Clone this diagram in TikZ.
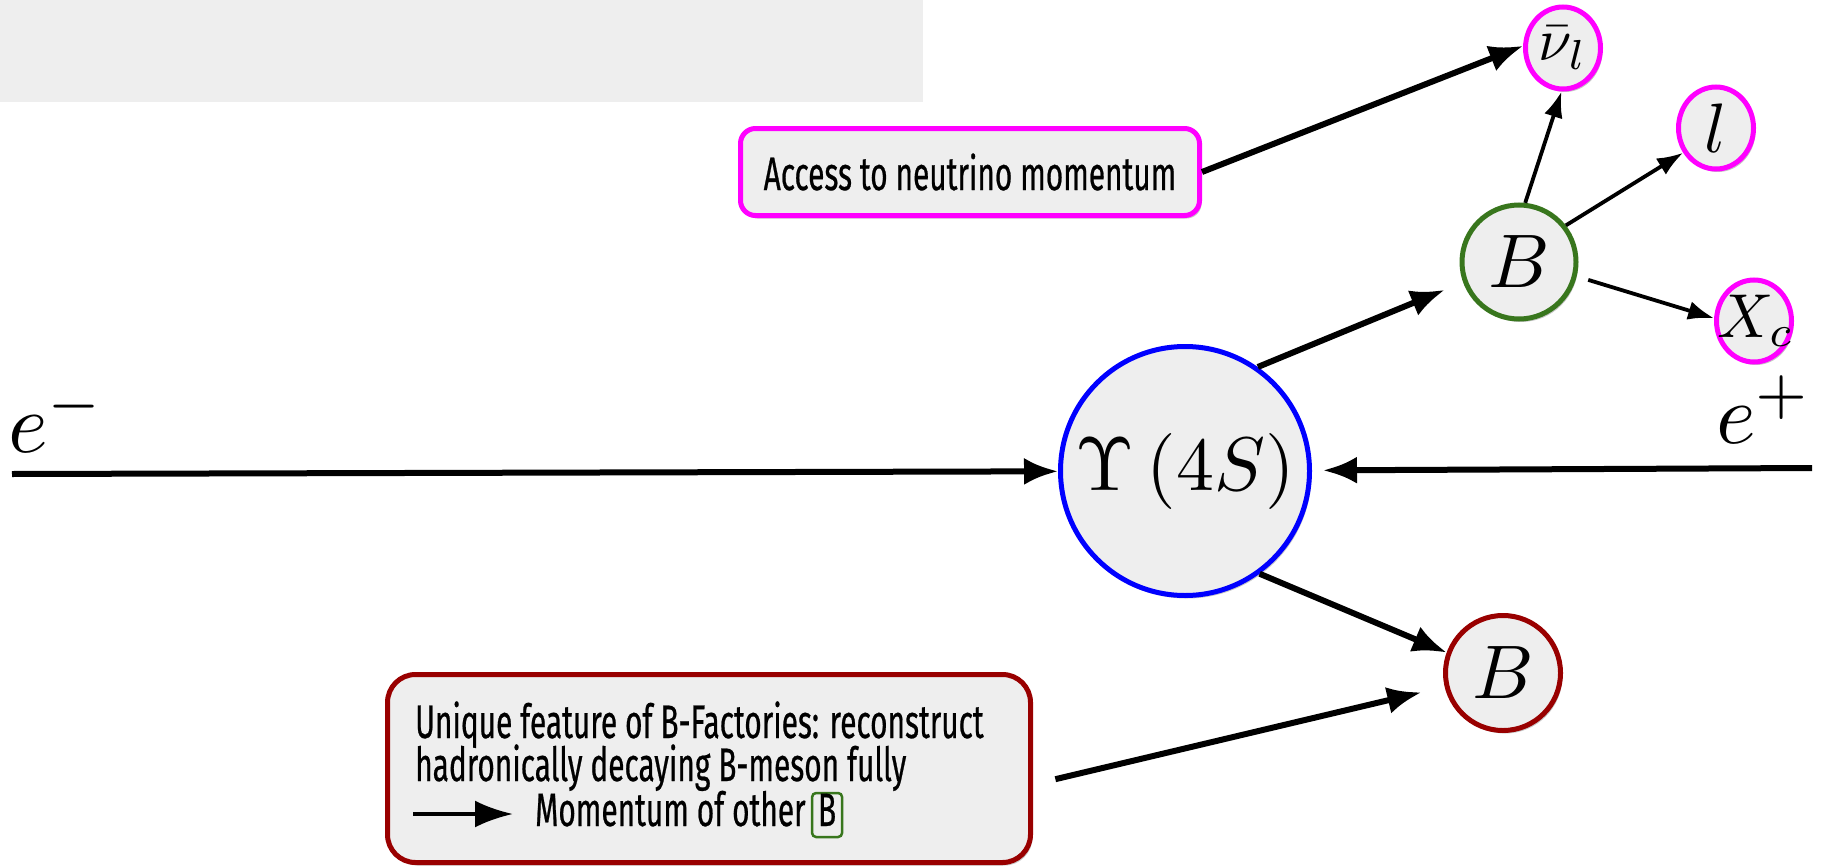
\documentclass[tikz,border=0pt]{standalone}
\usepackage{graphicx}
\usepackage{fontspec}
\newfontfamily\osw[FakeStretch=0.635,FakeBold=0.5]{Fira Sans}
\usetikzlibrary{arrows.meta,shapes.geometric,shadows,calc}
\definecolor{boxgray}{HTML}{EEEEEE}
\definecolor{mag}{HTML}{FF00FF}
\definecolor{dgreen}{HTML}{38761D}
\definecolor{dred}{HTML}{990000}
\newcommand{\mbig}[2]{\scalebox{#1}{$#2$}}
\tikzset{
  shad/.style={drop shadow={shadow xshift=2pt,shadow yshift=-3pt,fill=black,opacity=0.22}},
  thickarr/.style={line width=6pt,-{Latex[length=34pt,width=27pt]}},
  thinarr/.style={line width=3.8pt,-{Latex[length=26pt,width=19pt]}},
  particle/.style={circle,draw,line width=5pt,fill=boxgray,inner sep=0pt,shad},
  lepton/.style={ellipse,draw=mag,line width=5pt,fill=boxgray,inner sep=0pt,shad,
    minimum width=75pt,minimum height=82pt},
  callout/.style={rectangle,draw,line width=5pt,fill=boxgray,inner sep=0pt,shad},
  txt/.style={font=\osw\fontsize{47pt}{48pt}\selectfont,inner sep=0pt},
  lbl/.style={inner sep=0pt},
}
\begin{document}
\begin{tikzpicture}[x=1pt,y=-1pt]
\useasboundingbox (0,0) rectangle (1826,867);
\fill[boxgray] (0,0) rectangle (923,102);

% particles
\node[particle,draw=blue,minimum size=249pt] (ups) at (1185,471) {\mbig{7.6}{\Upsilon\left(4S\right)}};
\node[particle,draw=dgreen,minimum size=114pt] (Bg) at (1519,262) {\mbig{7.6}{B}};
\node[particle,draw=dred,minimum size=115pt] (Br) at (1503,673) {\mbig{7.6}{B}};
\node[lepton] (nu) at (1563,48) {};
\node[lbl] (nut) at (nu) {\mbig{6}{\bar{\nu}_l}};
\node[lepton] (l) at (1716,128) {};
\node[lbl] (lt) at (l) {\mbig{7}{l}};
\node[lepton] (Xc) at (1754,321) {};
\node[lbl] (Xct) at ([xshift=2pt]Xc.center) {\mbig{6.2}{X_c}};

% beam labels
\node[anchor=base west,inner sep=0pt] (em) at (8,452) {\mbig{8.5}{e^-}};
\node[anchor=base west,inner sep=0pt] (ep) at (1716,443) {\mbig{8.5}{e^+}};
\coordinate (em0) at (12,474);
\coordinate (ep0) at (1812,468);

% callout boxes
\node[callout,draw=mag,rounded corners=15pt,minimum width=459pt,minimum height=87pt] (box1) at (970,172) {};
\node[txt] (t0) at (box1.center) {Access to neutrino momentum};

\node[callout,draw=dred,rounded corners=28pt,minimum width=643pt,minimum height=188pt] (box2) at (709,768.5) {};
\node[txt,anchor=base west] (t1) at (415,738) {Unique feature of B-Factories: reconstruct};
\node[txt,anchor=base west] (t2) at (415,781) {hadronically decaying B-meson fully};
\node[txt,anchor=base west] (t3) at (535,826) {Momentum of other};
\node[txt,anchor=base west,draw=dgreen,line width=2.5pt,rounded corners=4pt,inner sep=2pt,
  text height=31pt,text depth=9pt,minimum width=30pt] (bsm) at ($(t3.base east)+(5,0)$) {B};
\coordinate (a0) at (413,814);
\coordinate (a1) at (513,814);
\draw[line width=4pt,-{Latex[length=38pt,width=27pt]}] (a0) -- (a1);

% connectors
\draw[thickarr] (em0) -- (ups);
\draw[thickarr,shorten >=11pt] (ep0) -- (ups);
\draw[thickarr,shorten >=20pt] (ups.55) -- (Bg.200);
\draw[thickarr] (ups.306) -- (Br.160);
\draw[thickarr,shorten <=23pt,shorten >=24pt] ($(box2.east)+(0,16)$) -- (Br);
\draw[thickarr] (box1.east) -- (nu.177);
\draw[thinarr] (Bg.84) -- (nu.268);
\draw[thinarr] (Bg.38) -- (l.217);
\draw[thinarr,shorten <=12pt] (Bg.-14) -- (Xc.176);
\end{tikzpicture}
\end{document}
